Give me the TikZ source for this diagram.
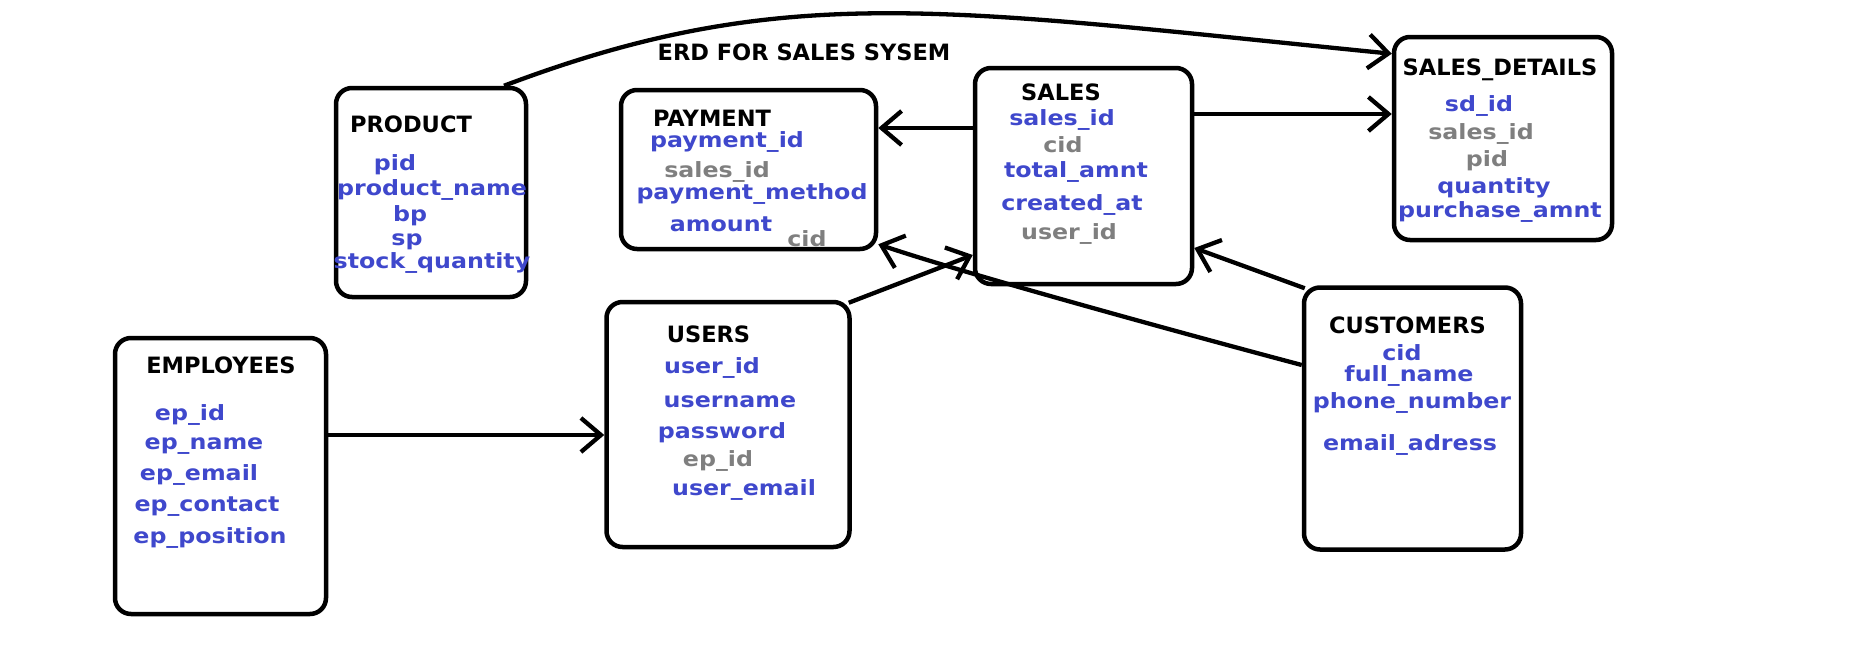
\documentclass[tikz,border=0pt]{standalone}
\usepackage{fontspec}
\setmainfont{DejaVu Sans}
\newfontfamily\fieldfont[FakeStretch=1.13]{DejaVu Sans}
\usepackage{tikz}
\usetikzlibrary{arrows.meta}
\definecolor{attrblue}{RGB}{63,72,204}
\definecolor{keygray}{RGB}{127,127,127}
\tikzset{
    entity/.style={draw=black, line width=4.5pt, rounded corners=16pt, inner sep=0pt},
    entname/.style={font=\fontsize{22.5}{24}\selectfont\bfseries, inner sep=0pt},
    attr/.style={text=attrblue, font=\fieldfont\fontsize{21}{23}\selectfont\bfseries, inner sep=0pt},
    fkattr/.style={attr, text=keygray},
    relation/.style={draw=black, line width=4.3pt, -{Straight Barb[length=20pt,width=34pt]}},
}
\begin{document}
\begin{tikzpicture}[x=1pt, y=-1pt]
	\useasboundingbox (0,0) rectangle (1858,656);
	\node[entname] (erdtitle) at (804,52) {ERD FOR SALES SYSEM};
	% entity boxes
	\node[entity, minimum width=190, minimum height=209] (product) at (431,192.5) {};
	\node[entity, minimum width=255, minimum height=159] (payment) at (748.5,169.5) {};
	\node[entity, minimum width=217, minimum height=216] (sales) at (1083.5,176) {};
	\node[entity, minimum width=218, minimum height=203] (salesdetails) at (1503,138.5) {};
	\node[entity, minimum width=243, minimum height=245] (users) at (728,424.5) {};
	\node[entity, minimum width=211, minimum height=276] (employees) at (220.5,476) {};
	\node[entity, minimum width=217, minimum height=262] (customers) at (1412.5,418.5) {};
	% product
	\node[entname] (product-name) at (411,124) {PRODUCT};
	\node[attr] (product-pid) at (395,165) {pid};
	\node[attr] (product-pname) at (432,190) {product\_name};
	\node[attr] (product-bp) at (410,216) {bp};
	\node[attr] (product-sp) at (407,242) {sp};
	\node[attr] (product-stock) at (432,263) {stock\_quantity};
	% payment
	\node[entname] (payment-name) at (712,118) {PAYMENT};
	\node[attr] (payment-id) at (727,142) {payment\_id};
	\node[fkattr] (payment-sid) at (717,172) {sales\_id};
	\node[attr] (payment-method) at (752,194) {payment\_method};
	\node[attr] (payment-amount) at (721,224) {amount};
	\node[fkattr] (payment-cid) at (807,239) {cid};
	% sales
	\node[entname] (sales-name) at (1061,92) {SALES};
	\node[attr] (sales-id) at (1062,120) {sales\_id};
	\node[fkattr] (sales-cid) at (1063,145) {cid};
	\node[attr] (sales-total) at (1076,172) {total\_amnt};
	\node[attr] (sales-created) at (1072,205) {created\_at};
	\node[fkattr] (sales-uid) at (1069,234) {user\_id};
	% sales details
	\node[entname] (sd-name) at (1500,70) {SALES\_DETAILS};
	\node[attr] (sd-id) at (1479,106) {sd\_id};
	\node[fkattr] (sd-sid) at (1481,134) {sales\_id};
	\node[fkattr] (sd-pid) at (1487,161) {pid};
	\node[attr] (sd-qty) at (1494,188) {quantity};
	\node[attr] (sd-amnt) at (1500,212) {purchase\_amnt};
	% users
	\node[entname] (users-name) at (708.5,334.5) {USERS};
	\node[attr] (users-id) at (712,368) {user\_id};
	\node[attr] (users-uname) at (730,402) {username};
	\node[attr] (users-pass) at (722,433) {password};
	\node[fkattr] (users-epid) at (718,461) {ep\_id};
	\node[attr] (users-email) at (744,490) {user\_email};
	% employees
	\node[entname] (emp-name) at (221,365) {EMPLOYEES};
	\node[attr] (emp-id) at (190,415) {ep\_id};
	\node[attr] (emp-ename) at (204,446) {ep\_name};
	\node[attr] (emp-email) at (199,475) {ep\_email};
	\node[attr] (emp-contact) at (207,507) {ep\_contact};
	\node[attr] (emp-position) at (210,538) {ep\_position};
	% customers
	\node[entname] (cust-name) at (1407.5,325.5) {CUSTOMERS};
	\node[attr] (cust-id) at (1402,353) {cid};
	\node[attr] (cust-fname) at (1409,376) {full\_name};
	\node[attr] (cust-phone) at (1412,403) {phone\_number};
	\node[attr] (cust-email) at (1410,445) {email\_adress};
	% relations
	\draw[relation] ([xshift=73pt]product.north) .. controls (784,-20) and (943,9) .. ([yshift=-19pt]salesdetails.north west);
	\draw[relation] ([yshift=62pt]sales.east) -- ([yshift=24.5pt]salesdetails.west);
	\draw[relation] ([yshift=48pt]sales.west) -- ([yshift=41.5pt]payment.east);
	\draw[relation] ([xshift=-3pt,yshift=-3pt]users.north east) -- ([yshift=-79pt]sales.west);
	\draw[relation] ([yshift=53.5pt]customers.west) .. controls (1170,330) and (960,272) .. ([yshift=7pt]payment.south east);
	\draw[relation] ([xshift=3pt,yshift=-3pt]customers.north west) -- ([yshift=-72pt]sales.east);
	\draw[relation] ([yshift=41pt]employees.east) -- ([yshift=-10.5pt]users.west);
\end{tikzpicture}
\end{document}
